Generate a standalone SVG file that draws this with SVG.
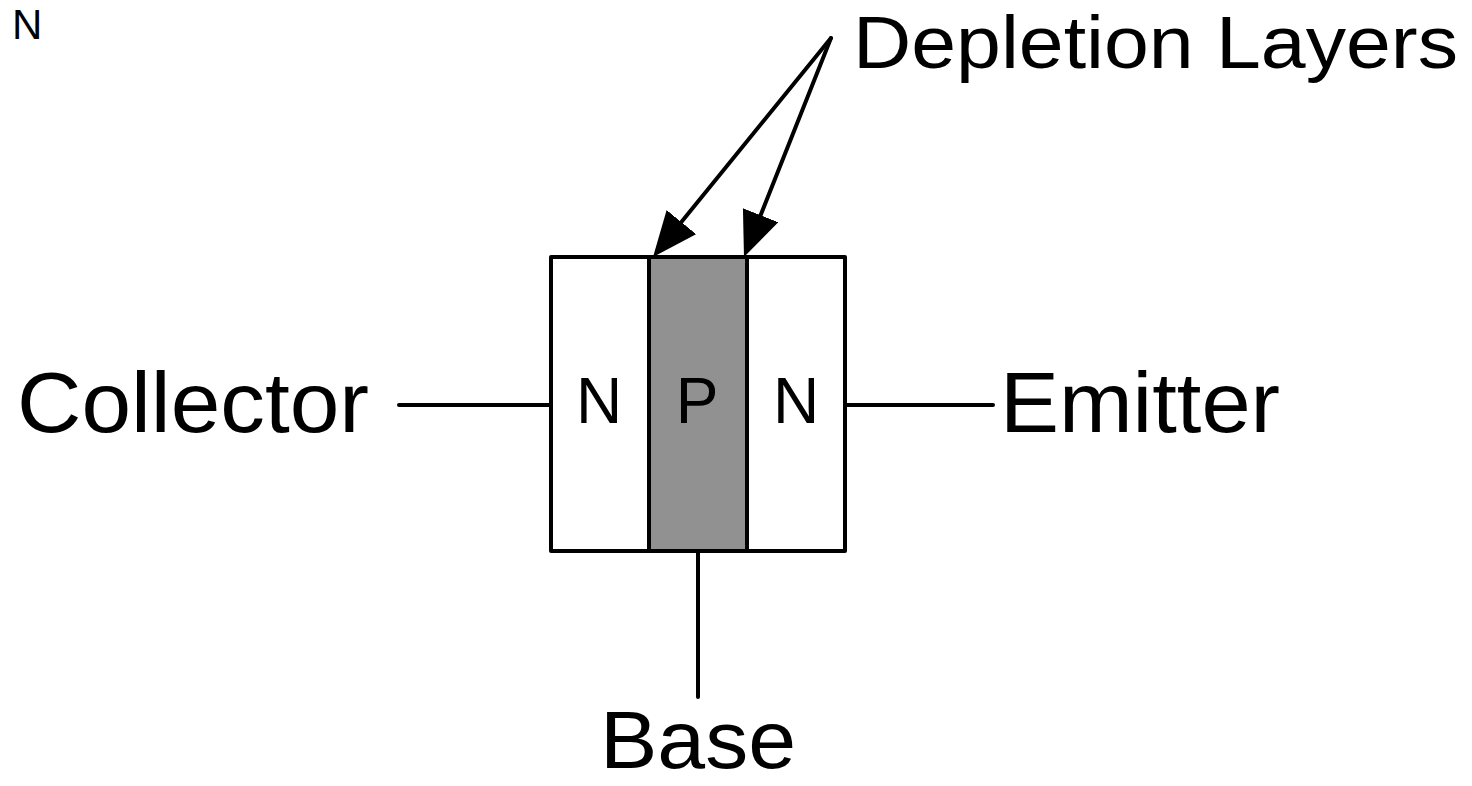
<svg xmlns="http://www.w3.org/2000/svg" width="1472" height="786" viewBox="0 0 1472 786">
  <style>
    text { font-family: "Liberation Sans", Arial, Helvetica, sans-serif; fill: #000; }
    .cell { stroke: #000; stroke-width: 4; stroke-linejoin: round; }
    .wire { stroke: #000; stroke-width: 4; stroke-linecap: round; fill: none; }
  </style>
  <defs>
    <marker id="head" markerUnits="userSpaceOnUse" markerWidth="46" markerHeight="38" viewBox="0 0 46 38" refX="0" refY="19" orient="auto">
      <path d="M0,0 L45,19 L0,38 z" fill="#000"/>
    </marker>
  </defs>
  <rect width="1472" height="786" fill="#fff"/>

  <text x="12" y="39" font-size="42">N</text>

  <g id="connectors">
    <line class="wire" x1="399" y1="405" x2="551" y2="405"/>
    <line class="wire" x1="845" y1="405" x2="993" y2="405"/>
    <line class="wire" x1="698" y1="551" x2="698" y2="697"/>
    <line class="wire" x1="831" y1="38" x2="681.4" y2="222.1" marker-end="url(#head)"/>
    <line class="wire" x1="831" y1="38" x2="760.6" y2="215.2" marker-end="url(#head)"/>
  </g>

  <g id="n-collector">
    <rect class="cell" x="551" y="257" width="98" height="294" fill="#fff"/>
    <text x="599" y="423" font-size="64" text-anchor="middle">N</text>
  </g>
  <g id="p-base">
    <rect class="cell" x="649" y="257" width="98" height="294" fill="#919191"/>
    <text x="697" y="423" font-size="64" text-anchor="middle">P</text>
  </g>
  <g id="n-emitter">
    <rect class="cell" x="747" y="257" width="98" height="294" fill="#fff"/>
    <text x="796" y="423" font-size="64" text-anchor="middle">N</text>
  </g>

  <g id="label-collector"><text x="17" y="432" font-size="86" textLength="352" lengthAdjust="spacingAndGlyphs">Collector</text></g>
  <g id="label-emitter"><text x="1000" y="432" font-size="86" textLength="280" lengthAdjust="spacingAndGlyphs">Emitter</text></g>
  <g id="label-base"><text x="600" y="768" font-size="82" textLength="196" lengthAdjust="spacingAndGlyphs">Base</text></g>
  <g id="label-depletion"><text x="853" y="68" font-size="75" textLength="605" lengthAdjust="spacingAndGlyphs">Depletion Layers</text></g>
</svg>
